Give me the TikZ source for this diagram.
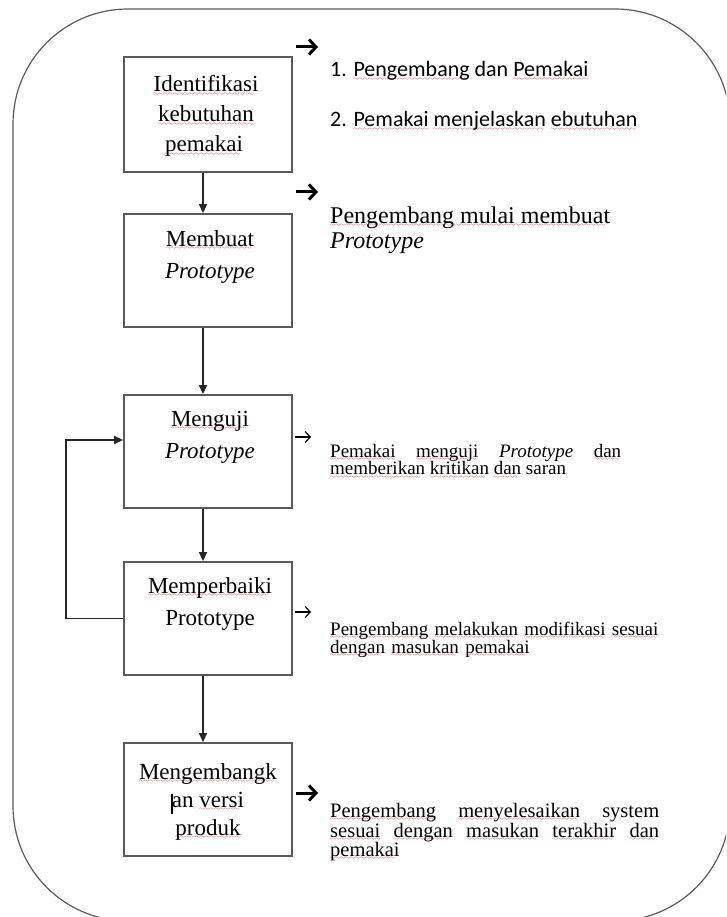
\documentclass[tikz,border=0pt]{standalone}
\usepackage{fontspec}
\setmainfont{Liberation Serif}
\newfontfamily\calfont{Carlito}
\usetikzlibrary{arrows.meta,calc}
\font\sixlyfont=lasy6
\newcommand\sqwave{\hbox{\sixlyfont\char58}}
\newcommand\sq[1]{\leavevmode\setbox0\hbox{#1}\rlap{\lower3.2pt\hbox to\wd0{\color{red}\leaders\sqwave\hfil}}\box0\relax}
\tikzset{
  x=1pt, y=-1pt,
  box/.style={draw=black!65, line width=1.8pt, minimum width=168pt, minimum height=113pt, inner sep=0pt},
  arr/.style={draw=black!85, line width=1.4pt, -{Triangle[length=9pt,width=8pt]}},
  bt/.style={font=\fontsize{23}{28}\selectfont, anchor=base, inner sep=0pt},
  rt/.style={font=\fontsize{24}{28}\selectfont, anchor=base west, inner sep=0pt},
  ct/.style={font=\calfont\fontsize{22}{26}\selectfont, anchor=base west, inner sep=0pt},
  ptext/.style={font=\fontsize{19}{17.5}\selectfont, anchor=north west, inner sep=0pt, align=justify},
  bold arrow/.style={line width=3pt, -{Straight Barb[length=7pt,width=15pt,line width=3pt]}},
  thin arrow/.style={line width=1.2pt, -{Straight Barb[length=5pt,width=11pt,line width=1.2pt]}},
}
\begin{document}
\begin{tikzpicture}
\useasboundingbox (0,0) rectangle (726,917);
\begin{scope}
\clip (0,0) rectangle (726,917);
\draw[black!65, line width=1.2pt, rounded corners=115pt] (13,9) rectangle (730,921);
\end{scope}

% boxes
\node[box] (b1) at (208,114.5) [minimum height=115pt] {};
\node[box] (b2) at (208,270.5) {};
\node[box] (b3) at (208,451.5) {};
\node[box] (b4) at (208,618.5) {};
\node[box] (b5) at (208,799.5) {};

% box texts
\node[bt] (t1a) at (206,92) {\sq{Identifikasi}};
\node[bt] (t1b) at (206,122) {\sq{kebutuhan}};
\node[bt] (t1c) at (204,152) {\sq{pemakai}};
\node[bt] (t2a) at (210,246) {\sq{Membuat}};
\node[bt] (t2b) at (210,278) {\textit{Prototype}};
\node[bt] (t3a) at (210,426) {\sq{Menguji}};
\node[bt] (t3b) at (210,458) {\textit{Prototype}};
\node[bt] (t4a) at (210,593) {\sq{Memperbaiki}};
\node[bt] (t4b) at (210,625) {Prototype};
\node[bt] (t5a) at (208,779) {\sq{Mengembangk}};
\node[bt] (t5b) at (208,807) {an \sq{versi}};
\node[bt] (t5c) at (208,835) {\sq{produk}};
\draw[black, line width=1.6pt] (t5b.base west) ++(0,-13) coordinate (cur1) -- ++(0,20) coordinate (cur2);

% vertical connectors
\draw[arr] ($(b1.south)+(-5,0)$) -- ($(b2.north)+(-5,0)$);
\draw[arr] ($(b2.south)+(-5,0)$) -- ($(b3.north)+(-5,0)$);
\draw[arr] ($(b3.south)+(-5,0)$) -- ($(b4.north)+(-5,0)$);
\draw[arr] ($(b4.south)+(-5,0)$) -- ($(b5.north)+(-5,0)$);
% feedback loop
\coordinate (fbx) at (66,0);
\draw[arr] (b4.west) -- (b4.west -| fbx) |- ($(b3.west)+(0,-11.5)$);

% side arrows
\coordinate (s1a) at (296,47);  \coordinate (s1b) at (318,47);
\coordinate (s2a) at (296,192); \coordinate (s2b) at (318,192);
\coordinate (s3a) at (295,437); \coordinate (s3b) at (311,437);
\coordinate (s4a) at (295,612); \coordinate (s4b) at (311,612);
\coordinate (s5a) at (296,793); \coordinate (s5b) at (318,793);
\draw[bold arrow] (s1a) -- (s1b);
\draw[bold arrow] (s2a) -- (s2b);
\draw[thin arrow] (s3a) -- (s3b);
\draw[thin arrow] (s4a) -- (s4b);
\draw[bold arrow] (s5a) -- (s5b);

% right texts
\node[ct] (r1a) at (330,77) {1. \sq{Pengembang} dan \sq{Pemakai}};
\node[ct] (r1b) at (330,127) {2. \sq{Pemakai} \sq{menjelaskan} \sq{ebutuhan}};
\node[rt] (r2a) at (330,223) {\sq{Pengembang mulai membuat}};
\node[rt] (r2b) at (330,248) {\textit{Prototype}};
\node[ptext, text width=291pt] (r3) at (330,444)
  {\sq{Pemakai} \sq{menguji} \textit{Prototype} \sq{dan}\linebreak
   \sq{memberikan} \sq{kritikan} \sq{dan} saran};
\node[ptext, text width=350pt, align=left] (r4) at (330,622)
  {\sq{Pengembang} \sq{melakukan} \sq{modifikasi} \sq{sesuai}\\
   \sq{dengan} \sq{masukan} \sq{pemakai}};
\node[ptext, text width=329pt, font=\fontsize{20.5}{18}\selectfont] (r5) at (330,803)
  {\sq{Pengembang} \sq{menyelesaikan} system\linebreak
   \sq{sesuai} \sq{dengan} \sq{masukan} \sq{terakhir} \sq{dan}\linebreak
   \sq{pemakai}};
\end{tikzpicture}
\end{document}
